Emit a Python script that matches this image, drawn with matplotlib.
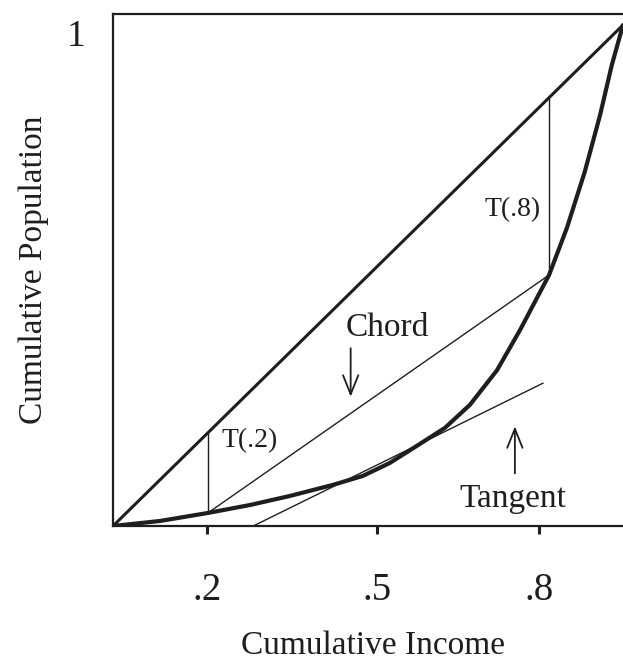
import matplotlib
matplotlib.use('Agg')
import matplotlib.pyplot as plt

plt.rcParams['font.family'] = ['Liberation Serif', 'DejaVu Serif']

# Lorenz-type curve
curva_x = [0.0, 0.092, 0.186, 0.269, 0.347, 0.431, 0.490, 0.543, 0.602, 0.651,
           0.700, 0.753, 0.798, 0.855, 0.890, 0.925, 0.955, 0.978, 1.0]
curva_y = [0.0, 0.010, 0.026, 0.042, 0.060, 0.082, 0.100, 0.126, 0.164, 0.196,
           0.242, 0.311, 0.391, 0.501, 0.595, 0.707, 0.820, 0.920, 1.0]

diagonal_x = [0.0, 1.0]
diagonal_y = [0.0, 1.0]

# T(.2) and T(.8) verticals: x, bottom (curve), top (diagonal)
t2 = (0.186, 0.026, 0.186)
t8 = (0.855, 0.501, 0.855)

corda_x = [0.186, 0.855]
corda_y = [0.026, 0.501]

tangente_x = [0.275, 0.843]
tangente_y = [0.0, 0.285]

tick_pos = [0.184, 0.518, 0.836]
tick_labels = ['.2', '.5', '.8']

cor = '#1e1e1e'

fig = plt.figure(figsize=(6.23, 6.67), dpi=100)
ax = fig.add_axes([113 / 623, 141 / 667, 510 / 623, 512 / 667])
ax.set_xlim(0, 1.0)
ax.set_ylim(0, 1.022)

ax.plot(diagonal_x, diagonal_y, color=cor, lw=2.2, solid_capstyle='round')
ax.plot(curva_x, curva_y, color=cor, lw=3.0, solid_capstyle='round', solid_joinstyle='round')
ax.vlines(t2[0], t2[1], t2[2], color=cor, lw=1.0)
ax.vlines(t8[0], t8[1], t8[2], color=cor, lw=1.0)
ax.plot(corda_x, corda_y, color=cor, lw=1.0)
ax.plot(tangente_x, tangente_y, color=cor, lw=1.0)

ax.text(0.213, 0.17, 'T(.2)', fontsize=20, color=cor, va='center', ha='left')
ax.text(0.838, 0.632, 'T(.8)', fontsize=20, color=cor, va='center', ha='right')
ax.text(0.537, 0.396, 'Chord', fontsize=24, color=cor, va='center', ha='center')
ax.text(0.785, 0.054, 'Tangent', fontsize=24, color=cor, va='center', ha='center')

seta = dict(arrowstyle='->,head_length=0.55,head_width=0.22', color=cor, lw=1.3,
            mutation_scale=25, shrinkA=0, shrinkB=0)
ax.annotate('', xy=(0.466, 0.258), xytext=(0.466, 0.355), arrowprops=seta)
ax.annotate('', xy=(0.788, 0.199), xytext=(0.788, 0.105), arrowprops=seta)

for lado in ['left', 'bottom', 'top']:
    ax.spines[lado].set_linewidth(1.6)
    ax.spines[lado].set_color(cor)
ax.spines['right'].set_visible(False)

ax.set_xticks(tick_pos)
ax.set_xticklabels(tick_labels, fontsize=28, color=cor)
ax.tick_params(axis='x', direction='out', length=6, width=2.2, pad=27, colors=cor)
ax.set_yticks([])

ax.text(-0.072, 0.955, '1', fontsize=27, color=cor, transform=ax.transAxes,
        ha='center', va='center')

ax.set_xlabel('Cumulative Income', fontsize=24, color=cor)
ax.xaxis.set_label_coords(0.51, -0.205)
ax.set_ylabel('Cumulative Population', fontsize=24, color=cor)
ax.yaxis.set_label_coords(-0.125, 0.5)

fig.savefig('out.png', dpi=100)
